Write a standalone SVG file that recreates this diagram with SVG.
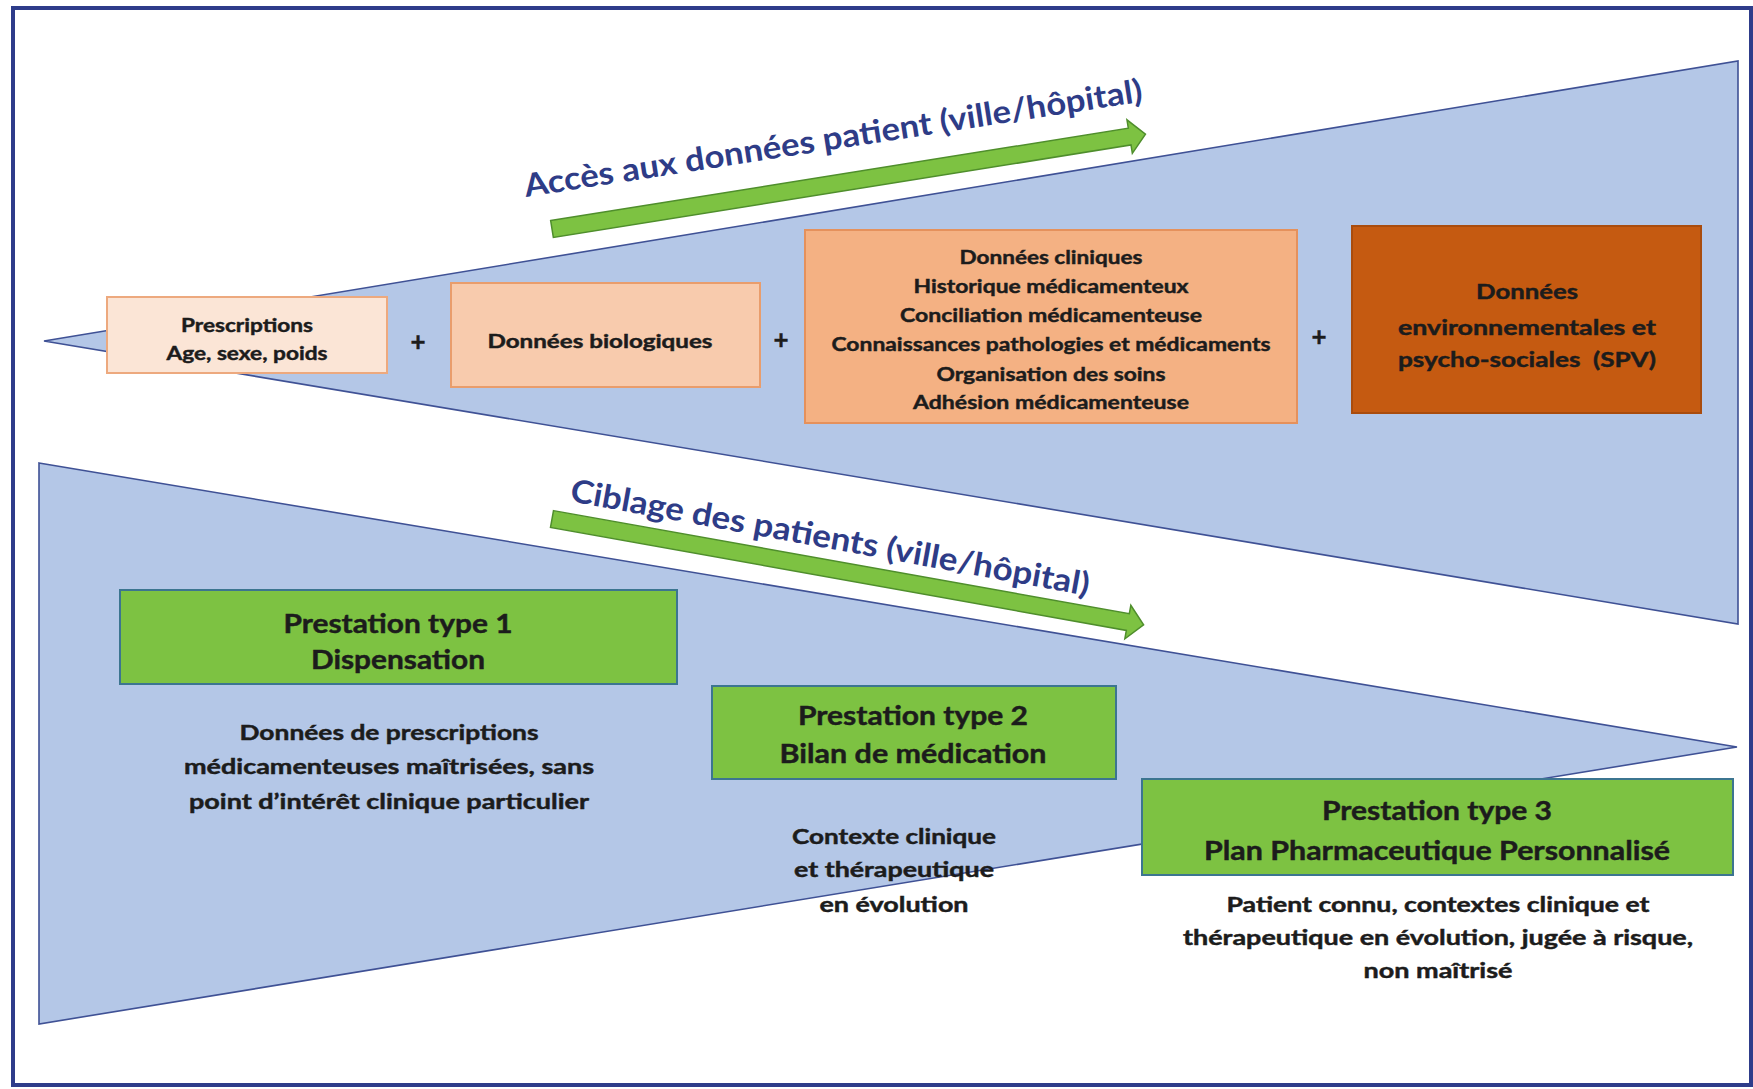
<svg xmlns="http://www.w3.org/2000/svg" width="1753" height="1089" viewBox="0 0 1753 1089">
<style>
.tri{fill:#B4C7E7;stroke:#3F5195;stroke-width:1.6}
.box{stroke-width:2}
.t{font-family:Lato,"Liberation Sans",sans-serif;font-weight:bold;fill:#1C1C1C;stroke:#1C1C1C;stroke-width:0.45;text-anchor:middle}
.s18{font-size:19px}
.s20{font-size:20.5px}
.s25{font-size:26px}
.plus{font-size:26px}
.rot{font-family:Lato,"Liberation Sans",sans-serif;font-weight:bold;font-size:32px;fill:#2E3C87}
.arr{fill:#7DC242;stroke:#4F8E2C;stroke-width:1.5}
.g{fill:#7DC242;stroke:#3C7590;stroke-width:2}
</style>
<defs>
<path id="arrowShape" d="M0,-8.5 L585,-8.5 L585,-17 L601,0 L585,17 L585,8.5 L0,8.5 Z"/>
</defs>
<rect x="0" y="0" width="1753" height="1089" fill="#FFFFFF"/>
<rect x="13" y="8" width="1738" height="1077" fill="none" stroke="#2E3C8A" stroke-width="4"/>
<g id="funnels">
<polygon class="tri" points="44,341 1738,61 1738,624"/>
<polygon class="tri" points="39,463 1737,747 39,1024"/>
</g>
<g id="connectors">
<use href="#arrowShape" class="arr" transform="translate(552,229) rotate(-9.09)"/>
<use href="#arrowShape" class="arr" transform="translate(552,519) rotate(10.15)"/>
</g>
<g id="title-acces">
<text class="rot" transform="translate(526,197) rotate(-8.8)" textLength="625" lengthAdjust="spacingAndGlyphs">Accès aux données patient (ville/hôpital)</text>
</g>
<g id="title-ciblage">
<text class="rot" transform="translate(569,501) rotate(10.36)" textLength="527" lengthAdjust="spacingAndGlyphs">Ciblage des patients (ville/hôpital)</text>
</g>
<g id="node-prescriptions">
<rect class="box" x="107" y="297" width="280" height="76" fill="#FBE5D6" stroke="#EDA97E"/>
<text class="t s18" x="247" y="332" textLength="132" lengthAdjust="spacingAndGlyphs">Prescriptions</text>
<text class="t s18" x="247" y="360" textLength="161" lengthAdjust="spacingAndGlyphs">Age, sexe, poids</text>
</g>
<g id="plus1"><text class="t plus" x="418" y="351">+</text></g>
<g id="node-bio">
<rect class="box" x="451" y="283" width="309" height="104" fill="#F8CBAD" stroke="#E99D6C"/>
<text class="t s18" x="600" y="348" textLength="225" lengthAdjust="spacingAndGlyphs">Données biologiques</text>
</g>
<g id="plus2"><text class="t plus" x="781" y="349">+</text></g>
<g id="node-cliniques">
<rect class="box" x="805" y="230" width="492" height="193" fill="#F4B183" stroke="#E5915C"/>
<text class="t s18" x="1051" y="264" textLength="183" lengthAdjust="spacingAndGlyphs">Données cliniques</text>
<text class="t s18" x="1051" y="293" textLength="275" lengthAdjust="spacingAndGlyphs">Historique médicamenteux</text>
<text class="t s18" x="1051" y="322" textLength="302" lengthAdjust="spacingAndGlyphs">Conciliation médicamenteuse</text>
<text class="t s18" x="1051" y="351" textLength="439" lengthAdjust="spacingAndGlyphs">Connaissances pathologies et médicaments</text>
<text class="t s18" x="1051" y="381" textLength="229" lengthAdjust="spacingAndGlyphs">Organisation des soins</text>
<text class="t s18" x="1051" y="409" textLength="276" lengthAdjust="spacingAndGlyphs">Adhésion médicamenteuse</text>
</g>
<g id="plus3"><text class="t plus" x="1319" y="346">+</text></g>
<g id="node-environnement">
<rect class="box" x="1352" y="226" width="349" height="187" fill="#C55A11" stroke="#A94C0E"/>
<text class="t s20" x="1527" y="299" textLength="102" lengthAdjust="spacingAndGlyphs">Données</text>
<text class="t s20" x="1527" y="335" textLength="258" lengthAdjust="spacingAndGlyphs">environnementales et</text>
<text class="t s20" x="1527" y="367" textLength="258" lengthAdjust="spacingAndGlyphs" style="white-space:pre">psycho-sociales  (SPV)</text>
</g>
<g id="node-type1">
<rect class="g" x="120" y="590" width="557" height="94"/>
<text class="t s25" x="398" y="633" textLength="229" lengthAdjust="spacingAndGlyphs">Prestation type 1</text>
<text class="t s25" x="398" y="669" textLength="174" lengthAdjust="spacingAndGlyphs">Dispensation</text>
</g>
<g id="desc-type1">
<text class="t s20" x="389" y="740" textLength="299" lengthAdjust="spacingAndGlyphs">Données de prescriptions</text>
<text class="t s20" x="389" y="774" textLength="410" lengthAdjust="spacingAndGlyphs">médicamenteuses maîtrisées, sans</text>
<text class="t s20" x="389" y="809" textLength="400" lengthAdjust="spacingAndGlyphs">point d’intérêt clinique particulier</text>
</g>
<g id="node-type2">
<rect class="g" x="712" y="686" width="404" height="93"/>
<text class="t s25" x="913" y="725" textLength="230" lengthAdjust="spacingAndGlyphs">Prestation type 2</text>
<text class="t s25" x="913" y="763" textLength="267" lengthAdjust="spacingAndGlyphs">Bilan de médication</text>
</g>
<g id="desc-type2">
<text class="t s20" x="894" y="844" textLength="204" lengthAdjust="spacingAndGlyphs">Contexte clinique</text>
<text class="t s20" x="894" y="877" textLength="200" lengthAdjust="spacingAndGlyphs">et thérapeutique</text>
<text class="t s20" x="894" y="912" textLength="149" lengthAdjust="spacingAndGlyphs">en évolution</text>
</g>
<g id="node-type3">
<rect class="g" x="1142" y="779" width="591" height="96"/>
<text class="t s25" x="1437" y="820" textLength="230" lengthAdjust="spacingAndGlyphs">Prestation type 3</text>
<text class="t s25" x="1437" y="860" textLength="466" lengthAdjust="spacingAndGlyphs">Plan Pharmaceutique Personnalisé</text>
</g>
<g id="desc-type3">
<text class="t s20" x="1438" y="912" textLength="423" lengthAdjust="spacingAndGlyphs">Patient connu, contextes clinique et</text>
<text class="t s20" x="1438" y="945" textLength="510" lengthAdjust="spacingAndGlyphs">thérapeutique en évolution, jugée à risque,</text>
<text class="t s20" x="1438" y="978" textLength="149" lengthAdjust="spacingAndGlyphs">non maîtrisé</text>
</g>
</svg>
